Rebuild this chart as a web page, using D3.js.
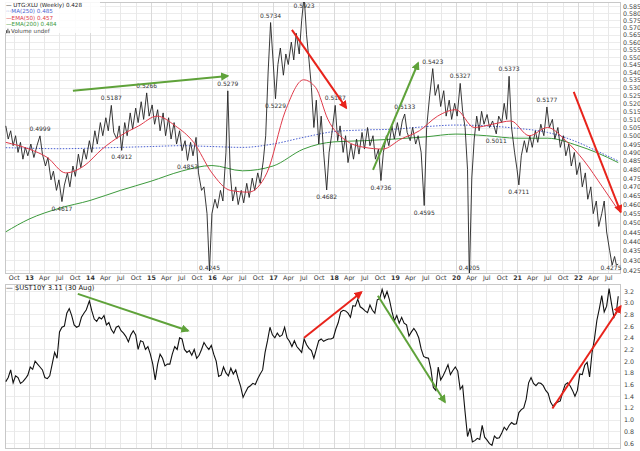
<!DOCTYPE html>
<html><head><meta charset="utf-8">
<script src="https://cdn.jsdelivr.net/npm/d3@7"></script>
<style>body{margin:0;background:#fff}svg{display:block;font-family:"DejaVu Sans",Verdana,sans-serif}</style>
</head><body><svg id="c" width="640" height="451"></svg>
<script>
// ---------- DATA (decimal years) ----------
const priceT=[2012.62,2012.66,2012.70,2012.74,2012.78,2012.82,2012.86,2012.90,2012.94,2012.98,2013.03,2013.08,2013.13,2013.18,2013.22,2013.27,2013.31,2013.36,2013.40,2013.45,2013.49,2013.54,2013.58,2013.63,2013.67,2013.72,2013.76,2013.81,2013.85,2013.90,2013.94,2013.99,2014.03,2014.08,2014.12,2014.17,2014.21,2014.26,2014.30,2014.35,2014.39,2014.44,2014.48,2014.52,2014.57,2014.61,2014.66,2014.70,2014.75,2014.79,2014.84,2014.88,2014.93,2014.97,2015.02,2015.06,2015.11,2015.15,2015.20,2015.24,2015.29,2015.33,2015.38,2015.42,2015.47,2015.51,2015.56,2015.60,2015.65,2015.69,2015.74,2015.78,2015.83,2015.87,2015.92,2015.96,2016.00,2016.05,2016.09,2016.14,2016.18,2016.23,2016.26,2016.30,2016.34,2016.39,2016.43,2016.48,2016.52,2016.57,2016.61,2016.66,2016.70,2016.75,2016.79,2016.84,2016.88,2016.92,2016.96,2017.00,2017.04,2017.08,2017.12,2017.17,2017.21,2017.25,2017.30,2017.34,2017.38,2017.43,2017.47,2017.51,2017.55,2017.59,2017.63,2017.67,2017.71,2017.75,2017.79,2017.83,2017.88,2017.92,2017.96,2018.02,2018.06,2018.10,2018.15,2018.19,2018.23,2018.28,2018.32,2018.37,2018.41,2018.46,2018.50,2018.55,2018.59,2018.64,2018.68,2018.73,2018.77,2018.81,2018.86,2018.90,2018.95,2018.99,2019.04,2019.08,2019.12,2019.16,2019.20,2019.25,2019.29,2019.34,2019.38,2019.43,2019.48,2019.52,2019.57,2019.62,2019.66,2019.71,2019.75,2019.80,2019.84,2019.89,2019.93,2019.98,2020.02,2020.07,2020.11,2020.15,2020.19,2020.22,2020.26,2020.30,2020.34,2020.38,2020.42,2020.46,2020.51,2020.55,2020.60,2020.66,2020.70,2020.75,2020.79,2020.83,2020.87,2020.91,2020.96,2021.00,2021.03,2021.07,2021.12,2021.16,2021.21,2021.25,2021.30,2021.34,2021.39,2021.44,2021.49,2021.53,2021.58,2021.62,2021.67,2021.71,2021.76,2021.80,2021.85,2021.89,2021.94,2021.98,2022.03,2022.07,2022.12,2022.16,2022.21,2022.25,2022.30,2022.34,2022.39,2022.43,2022.47,2022.52,2022.56,2022.60,2022.63,2022.66];
const priceV=[0.506,0.498,0.503,0.494,0.500,0.490,0.496,0.486,0.493,0.488,0.495,0.487,0.494,0.4999,0.489,0.482,0.487,0.474,0.479,0.468,0.474,0.4617,0.471,0.478,0.470,0.482,0.476,0.489,0.481,0.492,0.486,0.497,0.490,0.503,0.495,0.508,0.500,0.511,0.503,0.5187,0.502,0.498,0.506,0.4912,0.508,0.500,0.514,0.504,0.517,0.508,0.521,0.510,0.5266,0.512,0.519,0.507,0.516,0.503,0.514,0.500,0.511,0.498,0.508,0.495,0.503,0.491,0.497,0.4853,0.496,0.488,0.499,0.478,0.468,0.470,0.455,0.4245,0.455,0.463,0.458,0.468,0.462,0.490,0.5279,0.478,0.462,0.470,0.460,0.468,0.461,0.472,0.464,0.475,0.468,0.478,0.472,0.485,0.500,0.540,0.5734,0.548,0.5229,0.545,0.556,0.538,0.552,0.545,0.560,0.548,0.566,0.552,0.575,0.5923,0.565,0.548,0.530,0.505,0.522,0.495,0.512,0.490,0.4682,0.490,0.500,0.5187,0.497,0.506,0.490,0.500,0.484,0.495,0.486,0.498,0.489,0.502,0.492,0.505,0.494,0.500,0.486,0.492,0.4736,0.490,0.500,0.494,0.506,0.498,0.508,0.500,0.509,0.5133,0.502,0.497,0.505,0.495,0.500,0.490,0.4595,0.505,0.525,0.5423,0.525,0.532,0.518,0.528,0.512,0.522,0.510,0.520,0.512,0.5327,0.515,0.505,0.480,0.4205,0.475,0.498,0.512,0.503,0.515,0.507,0.513,0.505,0.509,0.5011,0.512,0.508,0.520,0.510,0.5373,0.505,0.490,0.480,0.4711,0.488,0.497,0.490,0.500,0.493,0.503,0.496,0.507,0.500,0.5177,0.505,0.510,0.498,0.505,0.493,0.500,0.488,0.495,0.482,0.490,0.477,0.484,0.470,0.478,0.463,0.470,0.455,0.462,0.448,0.455,0.462,0.445,0.435,0.4275,0.432,0.4275,0.428];

const maT=[2012.62,2013.0,2013.5,2014.0,2014.5,2015.0,2015.5,2016.0,2016.5,2017.0,2017.5,2018.0,2018.5,2019.0,2019.5,2020.0,2020.5,2021.0,2021.5,2022.0,2022.3,2022.66];
const ma250V=[0.4928,0.4925,0.4922,0.4925,0.4930,0.4935,0.4940,0.4935,0.4930,0.4950,0.4990,0.5025,0.5035,0.5040,0.5055,0.5065,0.5060,0.5045,0.5020,0.4960,0.4910,0.4850];
const ema200V=[0.4451,0.4520,0.4580,0.4623,0.4680,0.4732,0.4790,0.4823,0.4792,0.4820,0.4920,0.4963,0.4970,0.4980,0.4993,0.5010,0.5000,0.4985,0.4985,0.4940,0.4900,0.4840];
const ema50T=[2012.62,2013.0,2013.3,2013.6,2013.9,2014.2,2014.5,2014.8,2015.1,2015.4,2015.7,2016.0,2016.3,2016.6,2016.9,2017.2,2017.5,2017.7,2017.9,2018.2,2018.5,2018.8,2019.1,2019.4,2019.7,2020.0,2020.3,2020.6,2020.9,2021.2,2021.5,2021.8,2022.1,2022.4,2022.66];
const ema50V=[0.496,0.492,0.487,0.478,0.482,0.492,0.500,0.506,0.512,0.506,0.496,0.478,0.468,0.467,0.478,0.515,0.535,0.530,0.510,0.497,0.493,0.492,0.498,0.503,0.512,0.516,0.505,0.507,0.509,0.500,0.505,0.497,0.485,0.470,0.457];

const ustT=[2012.62,2012.66,2012.70,2012.74,2012.78,2012.82,2012.86,2012.90,2012.94,2012.98,2013.02,2013.06,2013.10,2013.14,2013.18,2013.22,2013.26,2013.30,2013.34,2013.38,2013.42,2013.46,2013.50,2013.54,2013.58,2013.62,2013.66,2013.70,2013.74,2013.78,2013.82,2013.86,2013.90,2013.94,2013.99,2014.03,2014.07,2014.11,2014.15,2014.19,2014.23,2014.27,2014.31,2014.35,2014.39,2014.43,2014.47,2014.51,2014.55,2014.59,2014.63,2014.67,2014.71,2014.75,2014.79,2014.83,2014.87,2014.91,2014.95,2014.99,2015.03,2015.07,2015.11,2015.15,2015.19,2015.23,2015.27,2015.31,2015.35,2015.39,2015.43,2015.47,2015.51,2015.55,2015.59,2015.63,2015.67,2015.71,2015.75,2015.79,2015.83,2015.87,2015.91,2015.95,2015.99,2016.03,2016.07,2016.11,2016.15,2016.19,2016.23,2016.27,2016.31,2016.35,2016.39,2016.43,2016.47,2016.51,2016.55,2016.59,2016.63,2016.67,2016.71,2016.75,2016.79,2016.83,2016.87,2016.91,2016.95,2016.99,2017.03,2017.07,2017.11,2017.15,2017.19,2017.23,2017.27,2017.31,2017.35,2017.39,2017.43,2017.47,2017.51,2017.55,2017.59,2017.63,2017.67,2017.71,2017.75,2017.79,2017.83,2017.87,2017.91,2017.95,2017.99,2018.03,2018.07,2018.11,2018.15,2018.19,2018.23,2018.27,2018.31,2018.35,2018.39,2018.43,2018.47,2018.51,2018.55,2018.59,2018.63,2018.67,2018.71,2018.75,2018.79,2018.83,2018.87,2018.91,2018.95,2018.99,2019.03,2019.07,2019.11,2019.15,2019.19,2019.23,2019.27,2019.31,2019.35,2019.39,2019.43,2019.47,2019.51,2019.55,2019.59,2019.63,2019.67,2019.71,2019.75,2019.79,2019.83,2019.87,2019.91,2019.95,2019.99,2020.03,2020.07,2020.11,2020.15,2020.19,2020.23,2020.27,2020.31,2020.35,2020.39,2020.43,2020.47,2020.51,2020.55,2020.59,2020.63,2020.67,2020.71,2020.75,2020.79,2020.83,2020.87,2020.91,2020.95,2020.99,2021.03,2021.07,2021.11,2021.15,2021.19,2021.23,2021.27,2021.31,2021.35,2021.39,2021.43,2021.47,2021.51,2021.55,2021.59,2021.63,2021.67,2021.71,2021.75,2021.79,2021.83,2021.87,2021.91,2021.95,2021.99,2022.03,2022.07,2022.11,2022.15,2022.19,2022.23,2022.27,2022.31,2022.35,2022.39,2022.43,2022.47,2022.51,2022.55,2022.59,2022.63,2022.66];
const ustV=[1.65,1.72,1.85,1.63,1.75,1.72,1.62,1.65,1.70,1.76,1.90,1.86,2.00,1.95,1.90,1.85,1.72,1.70,1.75,1.95,2.15,2.05,2.50,2.58,2.60,2.82,2.90,2.78,2.62,2.58,2.60,2.75,2.82,2.88,3.03,2.86,2.72,2.68,2.75,2.72,2.78,2.62,2.66,2.54,2.48,2.58,2.60,2.52,2.48,2.42,2.33,2.45,2.52,2.45,2.20,2.35,2.33,2.20,2.25,2.12,1.95,1.68,1.95,2.12,2.05,1.92,1.95,1.95,2.12,2.25,2.20,2.40,2.38,2.20,2.15,2.18,2.10,2.20,2.05,2.10,2.20,2.32,2.25,2.20,2.27,2.12,2.00,1.74,1.76,1.90,1.80,1.75,1.88,1.78,1.85,1.70,1.57,1.38,1.47,1.55,1.58,1.62,1.60,1.70,1.78,1.85,2.15,2.35,2.58,2.45,2.40,2.48,2.42,2.45,2.58,2.40,2.34,2.25,2.35,2.25,2.20,2.15,2.38,2.28,2.22,2.18,2.05,2.20,2.35,2.38,2.34,2.36,2.38,2.38,2.40,2.55,2.66,2.84,2.87,2.86,2.82,2.75,2.95,2.94,3.06,2.93,2.90,2.86,2.83,2.96,2.87,2.82,3.05,3.07,3.23,3.08,3.19,3.05,2.85,2.69,2.78,2.65,2.75,2.65,2.62,2.43,2.50,2.56,2.50,2.40,2.21,2.08,2.06,2.05,1.86,1.55,1.50,1.90,1.68,1.75,1.84,1.94,1.77,1.84,1.90,1.83,1.52,1.58,1.13,0.71,0.85,0.62,0.64,0.68,0.66,0.90,0.70,0.65,0.59,0.56,0.72,0.68,0.69,0.77,0.87,0.82,0.90,0.95,0.92,0.93,1.12,1.17,1.20,1.35,1.63,1.72,1.62,1.58,1.63,1.62,1.58,1.50,1.45,1.30,1.23,1.28,1.30,1.32,1.48,1.60,1.63,1.58,1.50,1.40,1.50,1.78,1.77,1.93,1.98,1.73,2.14,2.38,2.70,2.90,3.12,2.84,2.94,3.24,2.98,2.75,2.85,3.11];

// annotated swing points in the top panel
const noteT=[2013.18,2013.54,2014.35,2014.52,2014.93,2015.60,2015.96,2016.26,2016.96,2017.04,2017.51,2017.88,2018.02,2018.77,2019.16,2019.48,2019.62,2020.07,2020.22,2020.66,2020.87,2021.03,2021.49,2022.63];
const noteV=[0.4999,0.4617,0.5187,0.4912,0.5266,0.4853,0.4245,0.5279,0.5734,0.5229,0.5923,0.4682,0.5187,0.4736,0.5133,0.4595,0.5423,0.5327,0.4205,0.5011,0.5373,0.4711,0.5177,0.4275];
const noteSide=["up","down","up","down","up","down","down","up","up","down","up","down","up","down","up","down","up","up","down","down","up","down","up","down"];

// trend arrows: [t0,v0,t1,v1]
const topArrowsGreen=[[2013.72,0.528,2016.26,0.5375],[2018.64,0.4797,2019.38,0.546]];
const topArrowsRed=[[2017.31,0.5683,2018.20,0.5171],[2021.93,0.5272,2022.70,0.4559]];
const botArrowsGreen=[[2013.80,3.15,2015.61,2.52],[2018.72,3.12,2019.82,1.30]];
const botArrowsRed=[[2017.51,2.40,2018.45,3.18],[2021.58,1.19,2022.70,2.94]];

const topTicks=d3.range(0.425,0.5851,0.005);
const botTicks=d3.range(0.6,3.201,0.2);

// ---------- helpers ----------
function toDate(t){const y=Math.floor(t);const s=new Date(y,0,1),e=new Date(y+1,0,1);return new Date(+s+(t-y)*(e-s));}
const svg=d3.select("#c");
const X0=5,X1=620;
const T={top:2,bot:273}, B={top:284,bot:448};
const x=d3.scaleTime().domain([toDate(2012.607),toDate(2022.689)]).range([X0,X1]);
const yT=d3.scaleLog().domain([0.425,0.585]).range([270,6]);
const yB=d3.scaleLinear().domain([0.6,3.2]).range([443,291]);

const defs=svg.append("defs");
[["cpT",T],["cpB",B]].forEach(([id,p])=>{defs.append("clipPath").attr("id",id).append("rect").attr("x",X0).attr("y",p.top).attr("width",X1-X0).attr("height",p.bot-p.top);});
[["ag","#5fa23a"],["ar","#e8231b"]].forEach(([id,c])=>{defs.append("marker").attr("id",id).attr("viewBox","0 0 10 10").attr("refX",8).attr("refY",5).attr("markerWidth",4.2).attr("markerHeight",4.2).attr("orient","auto").append("path").attr("d","M0,0L10,5L0,10z").attr("fill",c);});

// grid
const months=d3.timeMonth.every(3).range(x.domain()[0],x.domain()[1]);
function grid(p,y,ticks){
  const g=svg.append("g");
  g.selectAll("line.h").data(ticks).join("line").attr("x1",X0).attr("x2",X1).attr("y1",d=>Math.round(y(d))+0.5).attr("y2",d=>Math.round(y(d))+0.5).attr("stroke","#ececec");
  g.selectAll("line.v").data(months).join("line").attr("y1",p.top).attr("y2",p.bot).attr("x1",d=>Math.round(x(d))+0.5).attr("x2",d=>Math.round(x(d))+0.5).attr("stroke",d=>d.getMonth()===0?"#dadada":"#e8e8e8");
  g.append("rect").attr("x",X0+0.5).attr("y",p.top+0.5).attr("width",X1-X0).attr("height",p.bot-p.top).attr("fill","none").attr("stroke","#c8c8c8");
}
grid(T,yT,topTicks);
grid(B,yB,botTicks);

// axes
const fmtM=d=>d.getMonth()===0?d3.timeFormat("%y")(d):d3.timeFormat("%b")(d);
const xa=svg.append("g").attr("transform",`translate(0,${T.bot})`).call(d3.axisBottom(x).tickValues(months).tickFormat(fmtM).tickSize(0).tickPadding(3));
xa.select(".domain").remove();
xa.selectAll("text").attr("font-size",6.3).attr("fill","#333").attr("font-weight",d=>d.getMonth()===0?"bold":"normal").attr("font-family","DejaVu Sans");
const ra=svg.append("g").attr("transform",`translate(${X1},0)`).call(d3.axisRight(yT).tickValues(topTicks).tickFormat(d3.format(".3f")).tickSize(0).tickPadding(3));
ra.select(".domain").remove();
ra.selectAll("text").attr("font-size",6.3).attr("fill","#444").attr("font-family","DejaVu Sans");
const rb=svg.append("g").attr("transform",`translate(${X1},0)`).call(d3.axisRight(yB).tickValues(botTicks).tickFormat(d3.format(".1f")).tickSize(0).tickPadding(4));
rb.select(".domain").remove();
rb.selectAll("text").attr("font-size",6.3).attr("fill","#444").attr("font-family","DejaVu Sans");

// lines
function series(ts,vs){return ts.map((t,i)=>({d:toDate(t),v:vs[i]}));}
const lT=y=>d3.line().x(p=>x(p.d)).y(p=>y(p.v));
const gT=svg.append("g").attr("clip-path","url(#cpT)");
gT.append("path").datum(series(maT,ema200V)).attr("d",lT(yT).curve(d3.curveMonotoneX)).attr("fill","none").attr("stroke","#3c9a3c").attr("stroke-width",1);
gT.append("path").datum(series(maT,ma250V)).attr("d",lT(yT).curve(d3.curveMonotoneX)).attr("fill","none").attr("stroke","#4a5fd0").attr("stroke-width",1).attr("stroke-dasharray","1.5,1.5");
gT.append("path").datum(series(priceT,priceV)).attr("d",lT(yT)).attr("fill","none").attr("stroke","#222").attr("stroke-width",0.9);
gT.append("path").datum(series(ema50T,ema50V)).attr("d",lT(yT).curve(d3.curveMonotoneX)).attr("fill","none").attr("stroke","#e03a4a").attr("stroke-width",1);
const gB=svg.append("g").attr("clip-path","url(#cpB)");
gB.append("path").datum(series(ustT,ustV)).attr("d",lT(yB)).attr("fill","none").attr("stroke","#111").attr("stroke-width",1.1);

// annotations
const ng=svg.append("g");
noteT.forEach((t,i)=>{
  let yy=yT(noteV[i])+(noteSide[i]==="up"?-5:9);
  yy=Math.max(8,Math.min(270,yy));
  const xx=Math.min(x(toDate(t)),611);
  ng.append("text").attr("x",xx).attr("y",yy).attr("text-anchor","middle").attr("font-size",6).attr("fill","#333").text(d3.format(".4f")(noteV[i]));
});

// arrows
function arrows(list,y,color,mk){
  svg.append("g").selectAll("line").data(list).join("line")
   .attr("x1",a=>x(toDate(a[0]))).attr("y1",a=>y(a[1])).attr("x2",a=>x(toDate(a[2]))).attr("y2",a=>y(a[3]))
   .attr("stroke",color).attr("stroke-width",2).attr("marker-end",`url(#${mk})`);
}
arrows(topArrowsGreen,yT,"#5fa23a","ag");
arrows(topArrowsRed,yT,"#e8231b","ar");
arrows(botArrowsGreen,yB,"#5fa23a","ag");
arrows(botArrowsRed,yB,"#e8231b","ar");

// legends
const lg=svg.append("g").attr("font-size",5.6);
lg.append("rect").attr("x",4).attr("y",1).attr("width",96).attr("height",32).attr("fill","#fff").attr("opacity",0.85);
const legRows=[["— UTG:XLU (Weekly) 0.428","#222"],["···MA(250) 0.485","#4a5fd0"],["—EMA(50) 0.457","#e03a4a"],["—EMA(200) 0.484","#3c9a3c"],["Volume undef","#444"]];
legRows.forEach((r,i)=>lg.append("text").attr("x",i===4?11:6).attr("y",7+i*6.4).attr("fill",r[1]).text(r[0]));
// small volume icon
lg.append("g").selectAll("rect").data([3,4.5,2.5]).join("rect").attr("x",(d,i)=>6+i*1.4).attr("y",d=>33.2-d).attr("width",1).attr("height",d=>d).attr("fill","#555");
svg.append("text").attr("x",6).attr("y",290).attr("font-size",6.8).attr("fill","#222").text("— $UST10Y 3.11 (30 Aug)");
</script></body></html>
